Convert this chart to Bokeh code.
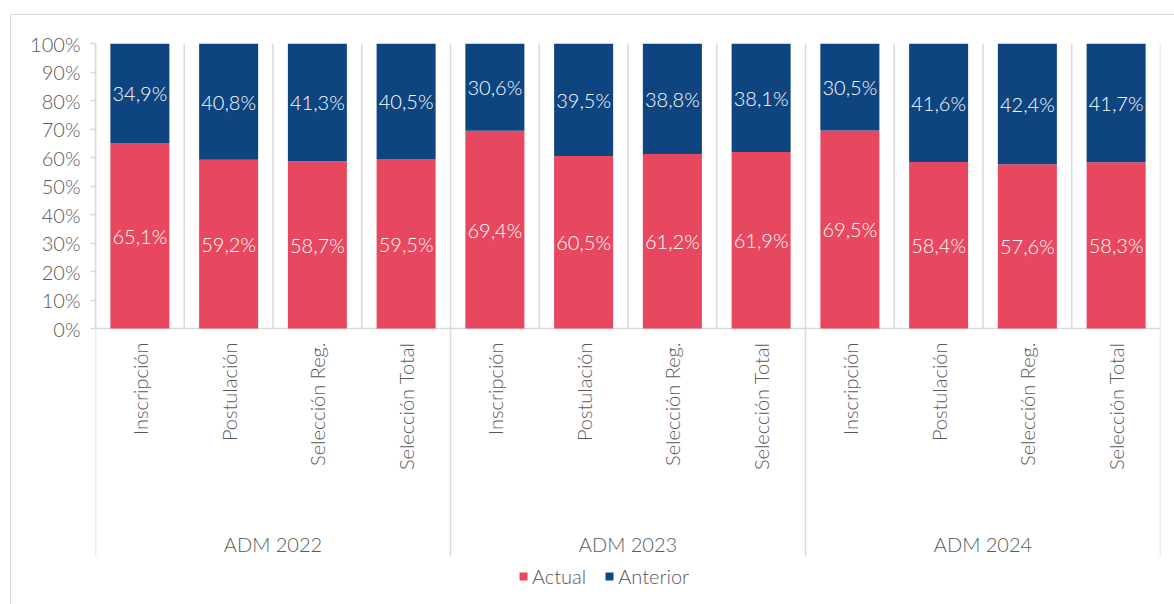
import math
from bokeh.plotting import figure
from bokeh.models import (FactorRange, Range1d, FixedTicker, Legend, LegendItem,
                          ColumnDataSource, PrintfTickFormatter, InlineStyleSheet)
from bokeh.embed import file_html
from bokeh.resources import INLINE
from bokeh.core.properties import value

# ---- data ----
years = ["ADM 2022", "ADM 2023", "ADM 2024"]
stages = ["Inscripción", "Postulación", "Selección Reg.", "Selección Total"]
actual = [65.1, 59.2, 58.7, 59.5, 69.4, 60.5, 61.2, 61.9, 69.5, 58.4, 57.6, 58.3]
anterior = [34.9, 40.8, 41.3, 40.5, 30.6, 39.5, 38.8, 38.1, 30.5, 41.6, 42.4, 41.7]
series = ["Actual", "Anterior"]
colors = ["#E8485F", "#0E4480"]
y_ticks = list(range(0, 101, 10))

FONT = "Lato Light"
GRAY = "#595959"
LINE = "#D9D9D9"

factors = [(y, s) for y in years for s in stages]
n = len(factors)

# layout (pixels): plot area 0%..100% spans 285 px; frame continues below for the labels
PX = 2.85             # pixels per percentage point
SEP_LOW = -228 / PX   # group separators reach 228 px below the axis
Y_LOW = -272 / PX     # frame bottom


def fmt(v):
    return f"{v:.1f}".replace(".", ",") + "%"


src = ColumnDataSource(dict(
    x=factors, Actual=actual, Anterior=anterior,
    y_act=[a / 2 for a in actual],
    y_ant=[a + b / 2 for a, b in zip(actual, anterior)],
    t_act=[fmt(v) for v in actual],
    t_ant=[fmt(v) for v in anterior],
    stage=[f[1] for f in factors],
    zero=[0] * n,
))

p = figure(width=1174, height=604,
           x_range=FactorRange(*factors, range_padding=0, group_padding=0, factor_padding=0),
           y_range=Range1d(Y_LOW, 100), x_axis_location=None,
           output_backend="svg", toolbar_location=None,
           min_border_left=95, min_border_right=14, min_border_top=43, min_border_bottom=4)
p.outline_line_color = None
for g in p.grid:
    g.visible = False
p.background_fill_color = "white"
p.border_fill_color = "white"

# vertical lines at category boundaries (synthetic coords: factor i centred at i + 0.5)
inner = [i for i in range(1, n + 1) if i % len(stages)]
groups = list(range(0, n + 1, len(stages)))
p.segment(x0=inner, x1=inner, y0=[0] * len(inner), y1=[100] * len(inner),
          line_color=LINE, line_width=1.5)
p.segment(x0=groups, x1=groups, y0=[SEP_LOW] * len(groups), y1=[100] * len(groups),
          line_color=LINE, line_width=1.5)
p.segment(x0=[0], x1=[n], y0=[0], y1=[0], line_color=LINE, line_width=1.5)

rs = p.vbar_stack(series, x="x", width=0.665, color=colors, line_color=None, source=src)

for ycol, tcol in (("y_act", "t_act"), ("y_ant", "t_ant")):
    p.text(x="x", y=ycol, text=tcol, source=src, text_align="center", text_baseline="middle",
           text_color="white", text_font_size="20px", text_font=value(FONT))

# category labels
p.text(x="x", y="zero", text="stage", source=src, angle=math.pi / 2, y_offset=14,
       text_align="right", text_baseline="middle", text_color=GRAY,
       text_font_size="20px", text_font=value(FONT))
gsrc = ColumnDataSource(dict(x=years, y=[0] * len(years), t=years))
p.text(x="x", y="y", text="t", source=gsrc, y_offset=215,
       text_align="center", text_baseline="middle", text_color=GRAY,
       text_font_size="20px", text_font=value(FONT))

# y axis
ya = p.yaxis[0]
ya.bounds = (0, 100)
ya.ticker = FixedTicker(ticks=y_ticks, minor_ticks=[])
ya.formatter = PrintfTickFormatter(format="%d%%")
ya.axis_line_color = LINE
ya.axis_line_width = 1.5
ya.major_tick_line_color = LINE
ya.major_tick_line_width = 1.5
ya.major_tick_out = 5
ya.major_tick_in = 0
ya.minor_tick_line_color = None
ya.major_label_text_font = FONT
ya.major_label_text_font_size = "20px"
ya.major_label_text_color = GRAY
ya.major_label_standoff = 10

legend = Legend(items=[LegendItem(label=s, renderers=[r]) for s, r in zip(series, rs)],
                orientation="horizontal", location=(423, 12), margin=0, padding=8, spacing=18,
                glyph_width=10, glyph_height=10, label_standoff=4,
                label_text_font=FONT, label_text_font_size="20px", label_text_color=GRAY,
                border_line_color=None, background_fill_alpha=0)
p.add_layout(legend)

p.stylesheets = [InlineStyleSheet(css="""
:host { position: relative; }
:host::after { content: ""; position: absolute; left: 10px; top: 14px; right: 0; bottom: 0;
  border-left: 1.5px solid #D9D9D9; border-top: 1.5px solid #D9D9D9; pointer-events: none; }
""")]

open("out.html", "w").write(file_html(p, INLINE))
